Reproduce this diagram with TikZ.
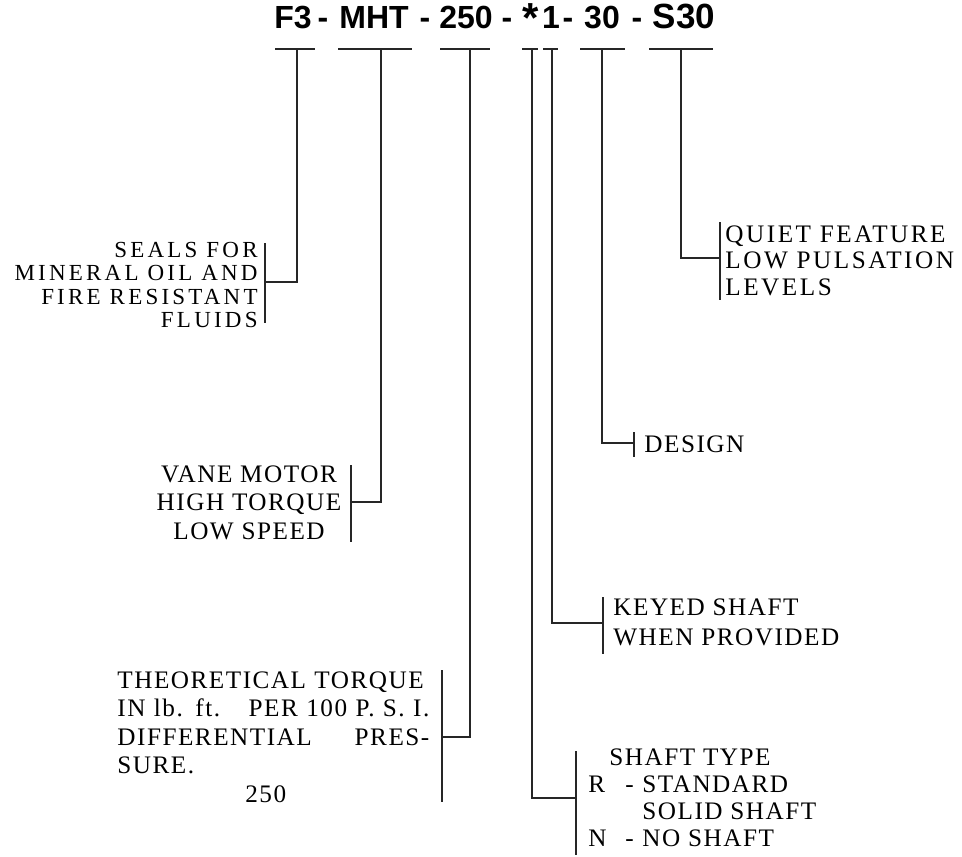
\documentclass[tikz,border=0pt]{standalone}
\usepackage{fontspec}
\setmainfont{Liberation Serif}[LetterSpace=6]
\newfontfamily\codefont{Liberation Sans}
\usetikzlibrary{calc}

\begin{document}
\begin{tikzpicture}[x=0.5pt, y=-0.5pt,
    code/.style={font=\codefont\bfseries\fontsize{16}{18}\selectfont,
                 anchor=base, inner sep=0pt},
    lead/.style={line width=0.7pt, black!85},
    ubar/.style={line width=1pt, black!85},
    label/.style={inner sep=0pt, font=\fontsize{12.6}{14.3}\selectfont},
]
\useasboundingbox (0,0) rectangle (962,856);

% ================= model code =================
\node[code] (f3)   at (293,29) {F3};
\node[code] (d1)   at (323,29) {-};
\node[code] (mht)  at (374,29) {MHT};
\node[code] (d2)   at (425,29) {-};
\node[code] (t250) at (466,29) {250};
\node[code] (d3)   at (507,29) {-};
\node[code, font=\codefont\bfseries\fontsize{21}{22}\selectfont] (star) at (531,33) {*};
\node[code] (one)  at (551,29) {1};
\node[code] (d4)   at (568,29) {-};
\node[code] (c30)  at (602,29) {30};
\node[code] (d5)   at (637,29) {-};
\node[code, font=\codefont\bfseries\fontsize{17.5}{20}\selectfont] (s30) at (684,29) {S30};

% underline bars under each field
\foreach \nm/\xa/\xb/\xv in {f3/275/315/297, mht/338/412/381, t250/440/490/470,
        star/522/538/532, one/543/558/552, c30/580/625/602, s30/649/713/681}{
    \draw[ubar] (\xa,49) -- (\xb,49);
    \coordinate (\nm-u) at (\xv,49);
}

% ================= descriptions =================
\node[label, align=right, anchor=north east,
      font=\fontsize{11.5}{11.6}\selectfont\addfontfeatures{LetterSpace=14}]
    (seals) at (258,242) {SEALS FOR\\MINERAL OIL AND\\FIRE RESISTANT\\FLUIDS};
\node[label, align=center, anchor=north] (vane) at (249,465)
    {VANE MOTOR\\HIGH TORQUE\\LOW SPEED};
\node[label, align=left, anchor=north west, text width=156pt] (torque) at (117,671)
    {THEORETICAL TORQUE\\
     IN lb. ft.\hfill PER 100 P. S. I.\\
     DIFFERENTIAL\hfill PRES-\\
     SURE.\\
     \hspace*{64pt}250};
\node[label, align=left, anchor=north west, font=\fontsize{12.6}{13.65}\selectfont]
    (shaft) at (588,748)
    {\hspace*{10.5pt}SHAFT TYPE\\
     \makebox[18.5pt][l]{R}\makebox[8.5pt][l]{-}STANDARD\\
     \hspace*{27pt}SOLID SHAFT\\
     \makebox[18.5pt][l]{N}\makebox[8.5pt][l]{-}NO SHAFT};
\node[label, align=left, anchor=north west, font=\fontsize{12.6}{15}\selectfont]
    (keyed) at (613,598) {KEYED SHAFT\\WHEN PROVIDED};
\node[label, anchor=north west] (design) at (644,435) {DESIGN};
\node[label, align=left, anchor=north west,
      font=\fontsize{12.6}{13.25}\selectfont\addfontfeatures{LetterSpace=10}]
    (quiet) at (725,225) {QUIET FEATURE\\LOW PULSATION\\LEVELS};

% bracket points
\coordinate (f3-b)   at (265,282);
\coordinate (mht-b)  at (351,502);
\coordinate (t250-b) at (442,737);
\coordinate (star-b) at (576,798);
\coordinate (one-b)  at (603,623);
\coordinate (c30-b)  at (634,443);
\coordinate (s30-b)  at (720,258);

% leaders
\draw[lead] (f3-u) |- (f3-b);
\draw[lead] (mht-u) |- (mht-b);
\draw[lead] (t250-u) |- (t250-b);
\draw[lead] (star-u) |- (star-b);
\draw[lead] (one-u) |- (one-b);
\draw[lead] (c30-u) |- (c30-b);
\draw[lead] (s30-u) |- (s30-b);

% bracket bars
\foreach \nm/\up/\dn in {f3/39/41, mht/37/40, t250/67/65, star/47/57,
        one/26/31, c30/11/14, s30/36/42}{
    \draw[lead] ($(\nm-b)+(0,-\up)$) -- ($(\nm-b)+(0,\dn)$);
}
\end{tikzpicture}
\end{document}
